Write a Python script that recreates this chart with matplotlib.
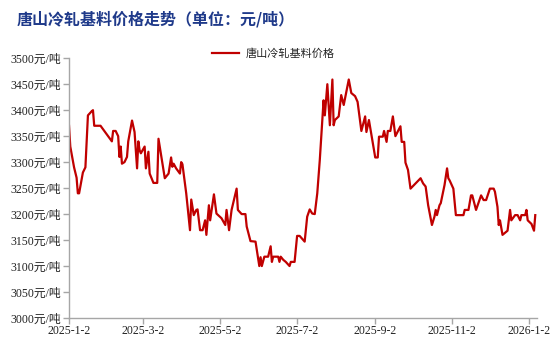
import pandas as pd
import matplotlib
matplotlib.use('Agg')
from matplotlib import pyplot as plt
import matplotlib.dates as mdates

plt.rcParams['font.family'] = ['Liberation Serif', 'Noto Sans CJK SC']

dates = ['2025-01-02', '2025-01-03', '2025-01-06', '2025-01-08', '2025-01-09', '2025-01-10',
         '2025-01-13', '2025-01-15', '2025-01-17', '2025-01-20', '2025-01-21', '2025-01-22',
         '2025-01-27', '2025-02-05', '2025-02-06', '2025-02-08', '2025-02-10', '2025-02-11',
         '2025-02-12', '2025-02-13', '2025-02-15', '2025-02-17', '2025-02-18', '2025-02-21',
         '2025-02-23', '2025-02-25', '2025-02-26', '2025-02-27', '2025-02-28', '2025-03-03',
         '2025-03-04', '2025-03-06', '2025-03-07', '2025-03-10', '2025-03-13', '2025-03-14',
         '2025-03-19', '2025-03-22', '2025-03-24', '2025-03-25', '2025-03-26', '2025-03-28',
         '2025-03-31', '2025-04-01', '2025-04-02', '2025-04-05', '2025-04-08', '2025-04-09',
         '2025-04-11', '2025-04-13', '2025-04-14', '2025-04-16', '2025-04-18', '2025-04-20',
         '2025-04-21', '2025-04-23', '2025-04-24', '2025-04-27', '2025-04-29', '2025-05-03',
         '2025-05-06', '2025-05-07', '2025-05-09', '2025-05-11', '2025-05-15', '2025-05-16',
         '2025-05-19', '2025-05-22', '2025-05-23', '2025-05-26', '2025-05-30', '2025-06-02',
         '2025-06-03', '2025-06-04', '2025-06-06', '2025-06-09', '2025-06-11', '2025-06-12',
         '2025-06-13', '2025-06-17', '2025-06-18', '2025-06-19', '2025-06-21', '2025-06-23',
         '2025-06-26', '2025-06-27', '2025-06-30', '2025-07-02', '2025-07-04', '2025-07-08',
         '2025-07-10', '2025-07-12', '2025-07-14', '2025-07-16', '2025-07-18', '2025-07-20',
         '2025-07-23', '2025-07-24', '2025-07-26', '2025-07-28', '2025-07-30', '2025-07-31',
         '2025-08-01', '2025-08-04', '2025-08-06', '2025-08-08', '2025-08-12', '2025-08-14',
         '2025-08-17', '2025-08-19', '2025-08-22', '2025-08-25', '2025-08-26', '2025-08-28',
         '2025-09-02', '2025-09-04', '2025-09-05', '2025-09-08', '2025-09-09', '2025-09-11',
         '2025-09-12', '2025-09-14', '2025-09-16', '2025-09-18', '2025-09-22', '2025-09-23',
         '2025-09-25', '2025-09-26', '2025-09-28', '2025-09-30', '2025-10-08', '2025-10-10',
         '2025-10-12', '2025-10-14', '2025-10-17', '2025-10-19', '2025-10-20', '2025-10-21',
         '2025-10-23', '2025-10-24', '2025-10-27', '2025-10-29', '2025-10-30', '2025-10-31',
         '2025-11-03', '2025-11-05', '2025-11-11', '2025-11-12', '2025-11-15', '2025-11-17',
         '2025-11-18', '2025-11-21', '2025-11-25', '2025-11-27', '2025-11-29', '2025-12-02',
         '2025-12-05', '2025-12-06', '2025-12-08', '2025-12-09', '2025-12-10', '2025-12-12',
         '2025-12-16', '2025-12-18', '2025-12-19', '2025-12-22', '2025-12-24', '2025-12-26',
         '2025-12-27', '2025-12-30', '2025-12-31', '2026-01-01', '2026-01-04', '2026-01-06',
         '2026-01-07']

prices = [3370, 3330, 3290, 3270, 3240, 3240,
          3280, 3290, 3390, 3398, 3400, 3370,
          3370, 3340, 3360, 3360, 3350, 3310,
          3330, 3297, 3300, 3310, 3340, 3380,
          3358, 3288, 3340, 3323, 3317, 3330,
          3288, 3320, 3278, 3260, 3260, 3345,
          3269, 3278, 3309, 3291, 3297, 3288,
          3278, 3300, 3296, 3240, 3169, 3228,
          3198, 3208, 3209, 3169, 3169, 3188,
          3160, 3217, 3188, 3238, 3201, 3192,
          3179, 3208, 3169, 3208, 3249, 3208,
          3200, 3200, 3176, 3148, 3147, 3100,
          3117, 3100, 3118, 3118, 3138, 3108,
          3118, 3118, 3108, 3118, 3112, 3108,
          3100, 3108, 3108, 3158, 3158, 3147,
          3195, 3209, 3201, 3200, 3240, 3304,
          3419, 3390, 3450, 3371, 3459, 3371,
          3381, 3388, 3429, 3410, 3459, 3433,
          3427, 3416, 3360, 3388, 3358, 3381,
          3309, 3309, 3349, 3349, 3360, 3339,
          3360, 3360, 3388, 3350, 3369, 3339,
          3339, 3299, 3285, 3249, 3269, 3259,
          3253, 3217, 3179, 3195, 3208, 3198,
          3217, 3221, 3256, 3288, 3269, 3265,
          3249, 3198, 3198, 3208, 3208, 3236,
          3236, 3208, 3236, 3227, 3227, 3249,
          3249, 3243, 3214, 3179, 3188, 3160,
          3168, 3208, 3188, 3198, 3198, 3188,
          3198, 3198, 3208, 3188, 3181, 3168,
          3198]

tick_dates = ['2025-01-02', '2025-03-02', '2025-05-02', '2025-07-02',
              '2025-09-02', '2025-11-02', '2026-01-02']
tick_labels = ['2025-1-2', '2025-3-2', '2025-5-2', '2025-7-2',
               '2025-9-2', '2025-11-2', '2026-1-2']
y_ticks = list(range(3000, 3501, 50))

x = pd.to_datetime(dates)

fig = plt.figure(figsize=(5.5, 3.52), dpi=100)
ax = fig.add_axes([0.1255, 0.0966, 0.85, 0.738])

ax.plot(x, prices, color='#C00000', lw=1.6, label='唐山冷轧基料价格')

ax.set_ylim(3000, 3500)
ax.set_yticks(y_ticks)
ax.set_yticklabels([f'{v}元/吨' for v in y_ticks])
ax.set_xlim(pd.Timestamp('2025-01-02'), pd.Timestamp('2026-01-08'))
ax.set_xticks(pd.to_datetime(tick_dates))
ax.set_xticklabels(tick_labels)

for s in ['top', 'right']:
    ax.spines[s].set_visible(False)
for s in ['left', 'bottom']:
    ax.spines[s].set_color('#A6A6A6')
    ax.spines[s].set_linewidth(1.0)
ax.tick_params(axis='both', colors='#A6A6A6', labelcolor='#222222',
               labelsize=8.5, length=4, width=1.0, direction='out')
ax.tick_params(axis='y', pad=2)
ax.tick_params(axis='x', pad=1)

fig.text(0.03, 0.945, '唐山冷轧基料价格走势（单位：元/吨）', family='Noto Sans CJK SC',
         fontsize=11.5, fontweight='bold', color='#1F3A8A', ha='left', va='center')

leg = fig.legend(loc='center', bbox_to_anchor=(0.497, 0.849), frameon=False,
                 handlelength=2.5, handletextpad=0.6,
                 prop={'family': 'Noto Sans CJK SC', 'size': 8})
for t in leg.get_texts():
    t.set_color('#222222')

fig.savefig('out.png', dpi=100)
